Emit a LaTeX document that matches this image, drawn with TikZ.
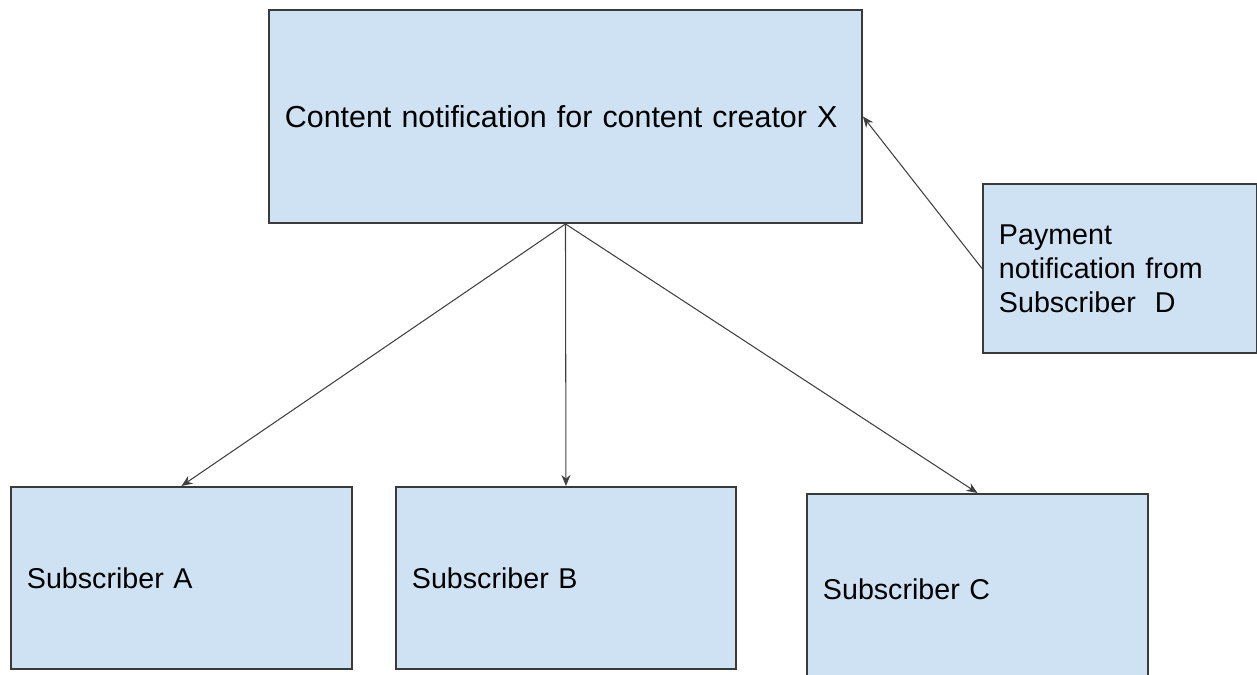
\documentclass[tikz,border=0pt]{standalone}
\usepackage{fontspec}
\setmainfont{Liberation Sans}
\usetikzlibrary{arrows.meta}
\definecolor{boxfill}{HTML}{CFE2F3}
\definecolor{boxline}{HTML}{3A3A3A}
\begin{document}
\begin{tikzpicture}[x=0.02cm,y=-0.02cm,
  box/.style={draw=boxline, line width=1.1pt, fill=boxfill, anchor=north west,
    align=left, inner xsep=0.32cm, inner ysep=0pt, font=\fontsize{16.3}{19.3}\selectfont},
  conn/.style={draw=black!75, line width=0.6pt, -{Stealth[length=2.2mm,width=1.8mm]}}]
\useasboundingbox (0,0) rectangle (1257,674);
\node[box, font=\fontsize{17.3}{21}\selectfont, minimum width=593*0.02cm, minimum height=213*0.02cm, text width=(593-32)*0.02cm] (top) at (268,9) {Content notification for content creator X};
\node[box, minimum width=274*0.02cm, minimum height=169*0.02cm, text width=(274-32)*0.02cm] (d) at (982,183) {Payment\\notification from\\Subscriber\ \ D};
\node[box, minimum width=341*0.02cm, minimum height=182*0.02cm, text width=(341-32)*0.02cm] (a) at (10,486) {Subscriber A};
\node[box, minimum width=340*0.02cm, minimum height=182*0.02cm, text width=(340-32)*0.02cm] (b) at (395,486) {Subscriber B};
\node[box, minimum width=341*0.02cm, minimum height=190*0.02cm, text width=(341-32)*0.02cm] (c) at (806,493) {Subscriber C};
\draw[conn] (top.south) -- (a.north);
\draw[conn] (top.south) -- (b.north);
\draw[conn] (top.south) -- (c.north);
\draw[conn] (d.west) -- (top.east);
\end{tikzpicture}
\end{document}
